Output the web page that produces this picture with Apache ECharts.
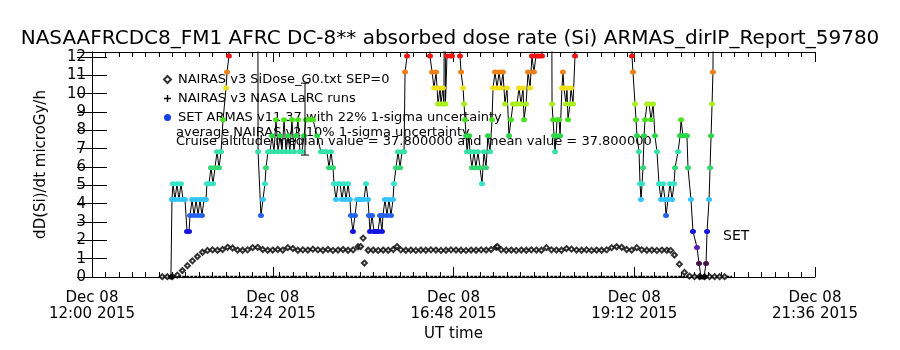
<!DOCTYPE html>
<html>
<head>
<meta charset="utf-8">
<script src="https://cdn.jsdelivr.net/npm/echarts@6/dist/echarts.min.js"></script>
<style>
  html, body { margin: 0; padding: 0; background: #fff; }
  #chart { width: 900px; height: 350px; }
</style>
</head>
<body>
<div id="chart"></div>
<script>
// time axis: minutes after 12:00 UT, Dec 08 2015
var AXIS_START = 0, AXIS_END = 576, MAJOR_STEP = 144;
var tickDay = 'Dec 08';
var tickYear = '2015';

// NAIRAS v3 SiDose (diamonds)
var nairasTime = [56, 60, 64, 68, 72, 76, 80, 84, 88, 92, 96, 100, 104, 108, 112, 116, 120, 124, 128, 132,
  136, 140, 144, 148, 152, 156, 160, 164, 168, 172, 176, 180, 184, 188, 192, 196, 200, 204, 208, 212,
  214, 216, 217, 220, 224, 228, 232, 236, 240, 243, 246, 250, 254, 258, 262, 266, 270, 274, 278, 282,
  286, 290, 294, 298, 302, 306, 310, 314, 318, 322, 323, 326, 330, 334, 338, 342, 346, 350, 354, 358,
  362, 366, 370, 374, 378, 382, 386, 390, 394, 398, 402, 406, 410, 414, 418, 422, 426, 430, 434, 438,
  442, 446, 450, 454, 458, 461, 464, 468, 472, 476, 480, 484, 488, 492, 496, 500, 504];
var nairasDose = [0.02, 0.02, 0.02, 0.1, 0.35, 0.62, 0.88, 1.12, 1.35, 1.45, 1.48, 1.46, 1.5, 1.62, 1.58, 1.47, 1.46, 1.48, 1.6, 1.62,
  1.5, 1.46, 1.47, 1.5, 1.47, 1.6, 1.55, 1.46, 1.48, 1.47, 1.52, 1.48, 1.46, 1.5, 1.45, 1.47, 1.5, 1.46, 1.48, 1.65,
  1.66, 2.12, 0.76, 1.46, 1.47, 1.45, 1.47, 1.46, 1.5, 1.66, 1.48, 1.46, 1.47, 1.45, 1.47, 1.46, 1.48, 1.47, 1.45, 1.46,
  1.48, 1.47, 1.46, 1.45, 1.47, 1.46, 1.48, 1.47, 1.5, 1.62, 1.66, 1.48, 1.46, 1.47, 1.45, 1.47, 1.46, 1.48, 1.47, 1.46,
  1.6, 1.48, 1.47, 1.46, 1.55, 1.52, 1.47, 1.46, 1.48, 1.45, 1.47, 1.46, 1.48, 1.6, 1.65, 1.62, 1.5, 1.47, 1.6, 1.48,
  1.46, 1.47, 1.45, 1.47, 1.46, 1.45, 1.2, 0.7, 0.25, 0.05, 0.02, 0.02, 0.02, 0.02, 0.02, 0.02, 0.02];

// NAIRAS v3 NASA LaRC runs (at zero along the flight)
var larcTime = [56, 510];
var larcDose = [0, 0];

// SET ARMAS v11.37 dose rate (30 = off scale)
var armasTime = [62.9, 63.7, 64.5, 66.1, 67.7, 69.3, 70.9, 72.5, 74.1, 75.7, 77.3, 78.1, 79.7, 81.3, 82.9, 84.5, 86.0, 87.6, 89.2, 90.8,
  91.6, 93.2, 94.8, 96.4, 98.0, 99.6, 101.2, 102.8, 104.4, 106.8, 107.6, 109.1, 110.7, 131.9, 132.3, 134.6, 136.2, 137.8, 138.6, 140.2,
  141.8, 143.4, 145.0, 146.6, 148.2, 149.8, 151.4, 153.0, 154.6, 156.2, 157.7, 159.3, 160.9, 162.5, 164.1, 165.7, 167.3, 168.9, 170.5, 172.1,
  173.7, 176.1, 179.3, 182.4, 184.0, 185.6, 187.2, 188.8, 190.4, 192.0, 192.8, 194.4, 196.0, 197.6, 199.2, 200.8, 202.4, 204.0, 205.5, 206.3,
  207.9, 209.5, 211.1, 212.7, 214.3, 216.7, 218.3, 219.9, 220.7, 221.5, 223.1, 224.7, 226.3, 227.9, 229.5, 231.0, 231.8, 233.4, 235.0, 236.6,
  238.2, 239.8, 240.6, 242.2, 243.8, 245.4, 247.0, 248.6, 249.4, 251.0, 252.5, 267.7, 269.3, 270.9, 272.5, 274.1, 274.9, 275.7, 277.3, 278.0,
  279.6, 280.4, 281.2, 281.6, 282.8, 285.2, 286.8, 290.0, 293.2, 294.0, 295.6, 296.4, 297.2, 298.0, 298.8, 300.4, 301.1, 302.7, 304.3, 305.9,
  307.5, 309.1, 310.7, 312.3, 313.9, 315.5, 317.1, 318.7, 319.5, 321.1, 322.7, 324.3, 325.9, 327.4, 329.0, 330.6, 332.2, 333.8, 335.4, 337.0,
  338.6, 340.2, 341.8, 343.4, 344.2, 345.8, 347.4, 349.0, 350.5, 352.1, 353.7, 355.3, 356.9, 358.5, 360.1, 365.7, 366.5, 367.3, 368.1, 368.9,
  369.7, 370.5, 372.1, 372.9, 374.4, 375.2, 376.0, 377.6, 378.4, 379.2, 380.8, 381.6, 383.2, 384.8, 386.4, 428.6, 430.2, 431.0, 432.6, 433.4,
  434.2, 435.8, 436.6, 437.4, 438.2, 439.0, 439.8, 440.6, 442.2, 443.8, 445.4, 447.0, 448.5, 450.1, 451.7, 453.3, 454.9, 456.5, 457.3, 458.9,
  460.5, 462.1, 463.7, 464.5, 466.9, 468.5, 469.3, 470.8, 472.4, 474.0, 474.8, 477.2, 478.8, 482.0, 483.6, 485.2, 487.6, 489.2, 490.0, 491.6,
  492.4, 493.2, 494.0, 494.7, 496.3];
var armasDose = [0, 4.22, 5.09, 4.22, 5.09, 4.22, 5.09, 4.22, 4.22, 2.48, 2.48, 3.35, 4.22, 3.35, 4.22, 3.35, 4.22, 3.35, 4.22, 4.22,
  5.09, 5.09, 5.96, 5.09, 5.96, 6.83, 5.96, 6.83, 8.57, 10.31, 11.18, 12.05, 30, 30, 6.83, 3.35, 4.22, 5.09, 5.96, 6.83,
  6.83, 7.70, 6.83, 8.57, 6.83, 7.70, 6.83, 8.57, 6.83, 7.70, 6.83, 8.57, 6.83, 7.70, 8.57, 6.83, 6.83, 7.70, 8.57, 8.57,
  8.57, 8.57, 7.70, 6.83, 6.83, 6.83, 6.83, 5.96, 6.83, 5.96, 5.09, 4.22, 5.09, 5.09, 4.22, 5.09, 4.22, 5.09, 4.22, 3.35,
  2.48, 3.35, 4.22, 4.22, 4.22, 4.22, 5.09, 4.22, 3.35, 2.48, 3.35, 2.48, 2.48, 2.48, 3.35, 2.48, 3.35, 4.22, 3.35, 4.22,
  3.35, 4.22, 5.09, 5.96, 6.83, 5.96, 6.83, 6.83, 11.18, 12.05, 30, 30, 12.05, 11.18, 10.31, 11.18, 10.31, 9.44, 10.31, 9.44,
  10.31, 9.44, 30, 9.44, 12.05, 12.05, 12.05, 30, 12.05, 11.18, 10.31, 9.44, 8.57, 7.70, 6.83, 7.70, 6.83, 5.96, 6.83, 5.96,
  6.83, 5.96, 5.09, 6.83, 5.96, 7.70, 6.83, 8.57, 10.31, 11.18, 10.31, 11.18, 10.31, 11.18, 9.44, 10.31, 7.70, 8.57, 9.44, 9.44,
  9.44, 10.31, 9.44, 10.31, 8.57, 9.44, 11.18, 10.31, 12.05, 11.18, 12.05, 12.05, 12.05, 12.05, 30, 30, 9.44, 8.57, 7.70, 6.83,
  7.70, 8.57, 8.57, 7.70, 10.31, 11.18, 10.31, 9.44, 10.31, 8.57, 9.44, 10.31, 9.44, 12.05, 30, 30, 12.05, 11.18, 9.44, 8.57,
  7.70, 6.83, 5.09, 4.22, 5.09, 5.96, 7.70, 8.57, 9.44, 9.44, 8.57, 9.44, 7.70, 6.83, 5.09, 4.22, 5.09, 4.22, 3.35, 4.22,
  5.09, 4.22, 5.09, 5.96, 6.83, 7.70, 8.57, 7.70, 7.70, 7.70, 5.96, 4.22, 2.48, 1.61, 0.74, 0, 0, 0.74, 2.48, 4.22,
  5.96, 7.70, 9.44, 11.18, 30];

// cruise altitude 1-sigma bar
var cruiseTime = [169.7];
var cruiseLow = [6.65];
var cruiseHigh = [10.57];

// IDL rainbow levels for the ARMAS dose steps (0.74 .. 12.05)
var levelColors = ['#46124a', '#5a20b4', '#1414e0', '#2462ee', '#32c4fa', '#36e4c8', '#32d872',
  '#34e2a6', '#28d846', '#48e21e', '#aaf01e', '#f0e01a', '#f08014', '#f01414'];

var FONT = 'DejaVu Sans';

function zip(a, b) {
  return a.map(function (v, i) { return [v, b[i]]; });
}

function timeLabel(v) {
  var t = 12 * 60 + v;
  var h = Math.floor(t / 60), m = Math.round(t % 60);
  return tickDay + '\n' + h + ':' + (m < 10 ? '0' + m : m) + ' ' + tickYear;
}

var minorTicks = [];
for (var k = 1; k * 32 / 3 < AXIS_END; k++) minorTicks.push(k * 32 / 3);

var black = '#000';
var axisBase = {
  type: 'value', min: AXIS_START, max: AXIS_END, interval: MAJOR_STEP,
  axisLine: { show: true, lineStyle: { color: black, width: 1 } },
  splitLine: { show: false }
};

var chart = echarts.init(document.getElementById('chart'), null, { renderer: 'canvas' });

chart.setOption({
  animation: false,
  backgroundColor: '#fff',
  textStyle: { fontFamily: FONT, color: black },
  title: {
    text: 'NASAAFRCDC8_FM1 AFRC DC-8** absorbed dose rate (Si) ARMAS_dirIP_Report_59780',
    left: 'center', top: 24,
    textStyle: { fontFamily: FONT, fontSize: 20, fontWeight: 'normal', color: black }
  },
  grid: { left: 92, right: 85, top: 52, bottom: 73 },
  legend: {
    orient: 'vertical', left: 163, top: 70, padding: 0, itemGap: 0,
    itemWidth: 7, itemHeight: 7, selectedMode: false,
    textStyle: { fontFamily: FONT, fontSize: 13, color: black, lineHeight: 19, padding: [0, 0, 0, 2] },
    data: [
      { name: 'NAIRAS v3 SiDose_G0.txt SEP=0', icon: 'emptyDiamond', itemStyle: { color: black, borderColor: black, borderWidth: 1.2 } },
      { name: 'NAIRAS v3 NASA LaRC runs', icon: 'path://M4,0h2v4h4v2h-4v4h-2v-4h-4v-2h4z', itemStyle: { color: black } },
      { name: 'SET ARMAS v11.37 with 22% 1-sigma uncertainty', icon: 'circle', itemStyle: { color: '#1640e4' } }
    ]
  },
  graphic: [
    { type: 'text', left: 176, top: 126, style: { text: 'average NAIRAS v2 10% 1-sigma uncertainty', font: '13px ' + FONT, fill: black } },
    { type: 'text', left: 176, top: 135, style: { text: 'Cruise altitude median value = 37.800000 and mean value = 37.800000', font: '13px ' + FONT, fill: black } },
    { type: 'text', left: 723, top: 229, style: { text: 'SET', font: '14px ' + FONT, fill: black } }
  ],
  xAxis: [
    Object.assign({}, axisBase, {
      position: 'bottom', name: 'UT time', nameLocation: 'middle', nameGap: 49,
      nameTextStyle: { fontFamily: FONT, fontSize: 15, color: black },
      axisTick: { show: true, inside: true, length: 10, lineStyle: { color: black } },
      axisLabel: { show: true, margin: 13, fontFamily: FONT, fontSize: 15, lineHeight: 16, color: black, formatter: timeLabel }
    }),
    Object.assign({}, axisBase, {
      position: 'bottom', axisLine: { show: false },
      axisTick: { show: true, inside: true, length: 5, customValues: minorTicks, lineStyle: { color: black } },
      axisLabel: { show: false }
    }),
    Object.assign({}, axisBase, {
      position: 'top',
      axisTick: { show: true, inside: true, length: 10, lineStyle: { color: black } },
      axisLabel: { show: false }
    }),
    Object.assign({}, axisBase, {
      position: 'top', axisLine: { show: false },
      axisTick: { show: true, inside: true, length: 5, customValues: minorTicks, lineStyle: { color: black } },
      axisLabel: { show: false }
    })
  ],
  yAxis: [
    {
      type: 'value', min: 0, max: 12.27, interval: 1, position: 'left',
      name: 'dD(Si)/dt microGy/h', nameLocation: 'middle', nameGap: 43, nameRotate: 90,
      nameTextStyle: { fontFamily: FONT, fontSize: 15, color: black },
      axisLine: { show: true, lineStyle: { color: black } },
      axisTick: { show: true, inside: true, length: 15, lineStyle: { color: black } },
      axisLabel: { margin: 6, fontFamily: FONT, fontSize: 15, color: black },
      splitLine: { show: false }
    },
    {
      type: 'value', min: 0, max: 12.27, interval: 1, position: 'right',
      axisLine: { show: true, lineStyle: { color: black } },
      axisTick: { show: true, inside: true, length: 15, lineStyle: { color: black } },
      axisLabel: { show: false },
      splitLine: { show: false }
    }
  ],
  series: [
    {
      name: 'NAIRAS v3 NASA LaRC runs', type: 'line',
      data: zip(larcTime, larcDose), symbol: 'none',
      lineStyle: { color: black, width: 2.5, type: [3, 1] },
      itemStyle: { color: black }, z: 2
    },
    {
      name: 'NAIRAS v3 SiDose_G0.txt SEP=0', type: 'scatter',
      data: zip(nairasTime, nairasDose), symbol: 'emptyDiamond', symbolSize: 5,
      itemStyle: { color: black, borderColor: black, borderWidth: 1 }, z: 3
    },
    {
      name: 'SET ARMAS v11.37 with 22% 1-sigma uncertainty', type: 'line',
      data: zip(armasTime, armasDose), symbol: 'circle', symbolSize: [6, 5],
      showSymbol: true, showAllSymbol: true, clip: true,
      lineStyle: { color: black, width: 1 },
      itemStyle: {
        color: function (p) {
          var v = p.value[1];
          if (v < 0.3) return black;
          var i = Math.max(0, Math.min(levelColors.length - 1, Math.round((v - 0.74) / 0.87)));
          return levelColors[i];
        }
      },
      z: 4
    },
    {
      name: 'cruise', type: 'custom', z: 5,
      data: cruiseTime.map(function (t, i) { return [t, cruiseLow[i], cruiseHigh[i]]; }),
      renderItem: function (params, api) {
        var lo = api.coord([api.value(0), api.value(1)]);
        var hi = api.coord([api.value(0), api.value(2)]);
        var style = { stroke: black, lineWidth: 1 };
        return {
          type: 'group', children: [
            { type: 'line', shape: { x1: lo[0], y1: lo[1], x2: hi[0], y2: hi[1] }, style: style },
            { type: 'line', shape: { x1: lo[0] - 4, y1: lo[1], x2: lo[0] + 4, y2: lo[1] }, style: style },
            { type: 'line', shape: { x1: hi[0] - 4, y1: hi[1], x2: hi[0] + 4, y2: hi[1] }, style: style }
          ]
        };
      }
    }
  ]
});
</script>
</body>
</html>
